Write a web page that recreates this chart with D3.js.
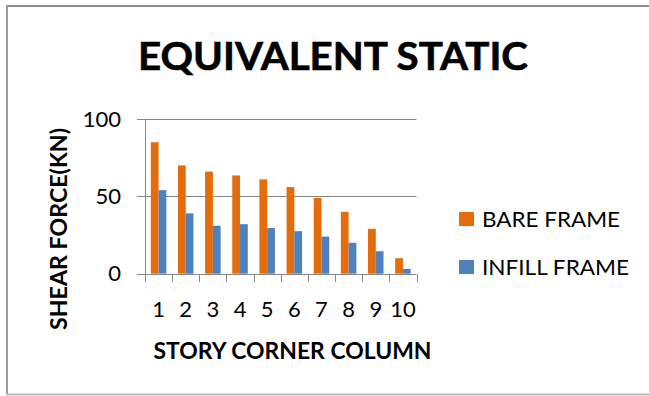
<!DOCTYPE html>
<html>
<head>
<meta charset="utf-8">
<script src="https://cdn.jsdelivr.net/npm/d3@7"></script>
<style>
  html, body { margin: 0; padding: 0; background: #fff; }
  svg { display: block; }
  text { font-family: Lato, "Open Sans", sans-serif; fill: #000; }
</style>
</head>
<body>
<script>
// ---- data ----
const categories = ["1","2","3","4","5","6","7","8","9","10"];
const seriesNames = ["BARE FRAME", "INFILL FRAME"];
const bareFrame = [85, 70, 66, 63.5, 61, 56, 49, 40, 29, 10];
const infillFrame = [54, 39, 31, 32, 29.5, 27.5, 24, 20, 14.5, 3];
const yTicks = [0, 50, 100];
const chartTitle = "EQUIVALENT STATIC";
const xTitle = "STORY CORNER COLUMN";
const yTitle = "SHEAR FORCE(KN)";

const colors = ["#E46C0A", "#4F81BD"];
const seriesValues = [bareFrame, infillFrame];

const W = 649, H = 396;
const svg = d3.select("body").append("svg").attr("width", W).attr("height", H);

// frame
svg.append("line").attr("x1", 6).attr("x2", W).attr("y1", 6).attr("y2", 6)
  .attr("stroke", "#8a8a8a").attr("stroke-width", 2);
svg.append("line").attr("x1", 7).attr("x2", 7).attr("y1", 5).attr("y2", 395)
  .attr("stroke", "#9a9a9a").attr("stroke-width", 2);
svg.append("line").attr("x1", 6).attr("x2", W).attr("y1", 394.5).attr("y2", 394.5)
  .attr("stroke", "#bdbdbd").attr("stroke-width", 2);

// plot area
const plot = { left: 145, right: 416.5, top: 119, bottom: 273.7 };

const x = d3.scaleBand().domain(categories).range([plot.left, plot.right]).paddingInner(0).paddingOuter(0);
const xs = d3.scaleBand().domain(seriesNames).range([0, x.bandwidth()]).paddingInner(0).paddingOuter(0.75);
const y = d3.scaleLinear().domain([0, 100]).range([plot.bottom, plot.top]);

const gridColor = "#878787";

// gridlines (including 0 baseline)
svg.append("g").selectAll("line").data(yTicks).join("line")
  .attr("x1", plot.left - 8).attr("x2", plot.right)
  .attr("y1", d => Math.round(y(d)) + 0.5).attr("y2", d => Math.round(y(d)) + 0.5)
  .attr("stroke", gridColor).attr("stroke-width", 1);

// y axis line
svg.append("line").attr("x1", plot.left + 0.5).attr("x2", plot.left + 0.5)
  .attr("y1", Math.round(y(100)) + 0.5).attr("y2", Math.round(y(0)) + 0.5)
  .attr("stroke", gridColor);

// x tick marks at band boundaries
const boundaries = categories.map(c => x(c)).concat([plot.right]);
svg.append("g").selectAll("line").data(boundaries).join("line")
  .attr("x1", d => Math.round(d) + 0.5).attr("x2", d => Math.round(d) + 0.5)
  .attr("y1", Math.round(y(0)) + 0.5).attr("y2", Math.round(y(0)) + 8)
  .attr("stroke", gridColor);

// bars
seriesNames.forEach((s, i) => {
  svg.append("g").selectAll("rect").data(seriesValues[i]).join("rect")
    .attr("x", (d, j) => x(categories[j]) + xs(s))
    .attr("width", xs.bandwidth())
    .attr("y", d => y(d))
    .attr("height", d => y(0) - y(d))
    .attr("fill", colors[i]);
});

// y tick labels
svg.append("g").selectAll("text").data(yTicks).join("text")
  .attr("x", 121).attr("y", d => y(d) + 7.5)
  .attr("text-anchor", "end").attr("font-size", 22).attr("fill", "#111")
  .text(d => d);

// x tick labels
svg.append("g").selectAll("text").data(categories).join("text")
  .attr("x", d => x(d) + x.bandwidth() / 2).attr("y", 317)
  .attr("text-anchor", "middle").attr("font-size", 22).attr("fill", "#111")
  .text(d => d);

// title
svg.append("text").attr("x", 333).attr("y", 70).attr("text-anchor", "middle")
  .attr("font-size", 38).attr("font-weight", "bold")
  .attr("stroke", "#000").attr("stroke-width", 0.6)
  .attr("textLength", 390).attr("lengthAdjust", "spacingAndGlyphs")
  .text(chartTitle);

// x title
svg.append("text").attr("x", 292.5).attr("y", 359.3).attr("text-anchor", "middle")
  .attr("font-size", 23).attr("font-weight", "bold")
  .attr("textLength", 278).attr("lengthAdjust", "spacingAndGlyphs")
  .text(xTitle);

// y title
svg.append("text").attr("transform", "translate(67,229) rotate(-90)")
  .attr("text-anchor", "middle")
  .attr("font-size", 23).attr("font-weight", "bold")
  .attr("textLength", 202).attr("lengthAdjust", "spacingAndGlyphs")
  .text(yTitle);

// legend
const legendWidths = [138, 147];
const legend = svg.append("g").selectAll("g").data(seriesNames).join("g")
  .attr("transform", (d, i) => `translate(459, ${212 + i * 48})`);
legend.append("rect").attr("width", 15).attr("height", 14)
  .attr("fill", (d, i) => colors[i]);
legend.append("text").attr("x", 23).attr("y", 15).attr("font-size", 22)
  .attr("fill", "#111")
  .attr("textLength", (d, i) => legendWidths[i]).attr("lengthAdjust", "spacingAndGlyphs")
  .text(d => d);
</script>
</body>
</html>
